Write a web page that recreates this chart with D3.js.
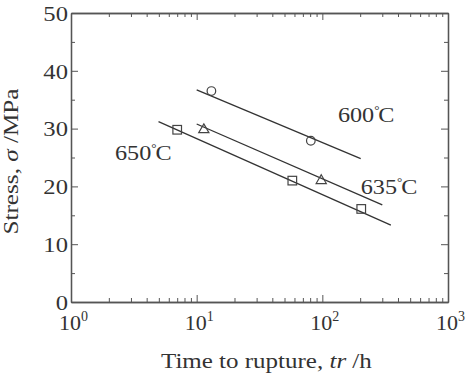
<!DOCTYPE html>
<html>
<head>
<meta charset="utf-8">
<script src="https://cdn.jsdelivr.net/npm/d3@7"></script>
<style>
	body { margin: 0; background: #fff; }
	svg { display: block; }
	text { font-family: "Liberation Serif", "Times New Roman", serif; fill: #333; }
	.axis path, .axis line { stroke: #555; }
</style>
</head>
<body>
<script>
	'use strict';

	// data (time to rupture in h, stress in MPa)
	var times600  = [13.1, 81];
	var stress600 = [36.5, 27.9];
	var times635  = [11.4, 98];
	var stress635 = [29.8, 21.0];
	var times650  = [7.0, 57.7, 204];
	var stress650 = [29.8, 21.0, 16.1];

	// fitted lines, [time, stress] end points
	var fit600 = [[10, 36.7], [202, 24.8]];
	var fit635 = [[10, 30.8], [300, 16.8]];
	var fit650 = [[4.97, 31.2], [351, 13.3]];

	var tempLabels = ["600", "635", "650"];
	var labelTimes = [133, 202, 2.24];
	var labelStress = [31.1, 18.6, 24.6];

	var xDecades = [0, 1, 2, 3];
	var yTicks = [0, 10, 20, 30, 40, 50];

	var margin = { top: 13, right: 18, bottom: 74, left: 71 },
		W = 466, H = 376,
		width = W - margin.left - margin.right,
		height = H - margin.top - margin.bottom;

	var svg = d3.select("body").append("svg")
		.attr("width", W)
		.attr("height", H)
		.append("g")
		.attr("transform", "translate(" + margin.left + "," + margin.top + ")");

	var x = d3.scaleLog().domain([1, 1000]).range([0, width]);
	var y = d3.scaleLinear().domain([0, 50]).range([height, 0]);

	// minor ticks, 2..9 within each decade
	var xMinor = [];
	xDecades.slice(0, -1).forEach(function(p) {
		for (var k = 2; k <= 9; k++) xMinor.push(k * Math.pow(10, p));
	});
	var xMajor = xDecades.map(function(p) { return Math.pow(10, p); });
	var yMinor = [5, 15, 25, 35, 45];

	function addAxis(axisFn, scale, values, size, transform) {
		svg.append("g")
			.attr("class", "axis")
			.attr("transform", transform)
			.call(axisFn(scale).tickValues(values).tickSize(size).tickSizeOuter(0).tickFormat(""));
	}

	// frame: bottom, top, left, right with inward ticks
	addAxis(d3.axisBottom, x, xMinor, -4, "translate(0," + height + ")");
	addAxis(d3.axisBottom, x, xMajor, -7, "translate(0," + height + ")");
	addAxis(d3.axisTop, x, xMinor, -4, "translate(0,0)");
	addAxis(d3.axisTop, x, xMajor, -7, "translate(0,0)");
	addAxis(d3.axisLeft, y, yMinor, -4, "translate(0,0)");
	addAxis(d3.axisLeft, y, yTicks, -7, "translate(0,0)");
	addAxis(d3.axisRight, y, yMinor, -4, "translate(" + width + ",0)");
	addAxis(d3.axisRight, y, yTicks, -7, "translate(" + width + ",0)");
	svg.selectAll(".axis path").attr("stroke-width", 1.3);

	// x tick labels 10^n
	var xl = svg.selectAll(".xlab")
		.data(xDecades)
		.enter().append("text")
		.attr("class", "xlab")
		.attr("transform", function(d) { return "translate(" + (x(Math.pow(10, d)) - 12) + "," + (height + 28) + ")"; })
		.style("font-size", "22px");
	xl.append("tspan").text("10");
	xl.append("tspan").attr("dy", -9).style("font-size", "14px").text(function(d) { return d; });

	// y tick labels
	svg.selectAll(".ylab")
		.data(yTicks)
		.enter().append("text")
		.attr("class", "ylab")
		.attr("transform", function(d) { return "translate(-3," + y(d) + ")scale(1.12,1)"; })
		.attr("dy", "0.35em")
		.attr("text-anchor", "end")
		.style("font-size", "22px")
		.text(function(d) { return d; });

	// axis titles
	var xt = svg.append("text")
		.attr("transform", "translate(90," + (height + 66) + ")scale(1.19,1)")
		.style("font-size", "21px");
	xt.append("tspan").text("Time to rupture, ");
	xt.append("tspan").style("font-style", "italic").text("tr");
	xt.append("tspan").text(" /h");

	var yt = svg.append("text")
		.attr("text-anchor", "middle")
		.attr("transform", "translate(-53," + (height / 2 + 4) + ")rotate(-90)scale(1.26,1)")
		.style("font-size", "20px");
	yt.append("tspan").text("Stress,  ");
	yt.append("tspan").style("font-style", "italic").text("\u03c3");
	yt.append("tspan").text(" /MPa");

	// fit lines
	var line = d3.line().x(function(d) { return x(d[0]); }).y(function(d) { return y(d[1]); });
	[fit600, fit635, fit650].forEach(function(f) {
		svg.append("path")
			.attr("d", line(f))
			.attr("fill", "none")
			.attr("stroke", "#333")
			.attr("stroke-width", 1.3);
	});

	// markers
	var mk = { fill: "none", stroke: "#444", sw: 1.2 };
	svg.selectAll(".circ")
		.data(d3.zip(times600, stress600))
		.enter().append("circle")
		.attr("cx", function(d) { return x(d[0]); })
		.attr("cy", function(d) { return y(d[1]); })
		.attr("r", 4.3)
		.attr("fill", mk.fill).attr("stroke", mk.stroke).attr("stroke-width", mk.sw);

	svg.selectAll(".tri")
		.data(d3.zip(times635, stress635))
		.enter().append("path")
		.attr("d", d3.symbol().type(d3.symbolTriangle).size(45))
		.attr("transform", function(d) { return "translate(" + x(d[0]) + "," + y(d[1]) + ")"; })
		.attr("fill", mk.fill).attr("stroke", mk.stroke).attr("stroke-width", mk.sw);

	svg.selectAll(".sq")
		.data(d3.zip(times650, stress650))
		.enter().append("rect")
		.attr("x", function(d) { return x(d[0]) - 4.3; })
		.attr("y", function(d) { return y(d[1]) - 4.3; })
		.attr("width", 8.6).attr("height", 8.6)
		.attr("fill", mk.fill).attr("stroke", mk.stroke).attr("stroke-width", mk.sw);

	// temperature labels, degree sign drawn small and raised like the original ℃
	var tl = svg.selectAll(".tlab")
		.data(tempLabels)
		.enter().append("text")
		.attr("class", "tlab")
		.attr("transform", function(d, i) { return "translate(" + x(labelTimes[i]) + "," + y(labelStress[i]) + ")scale(1.1,1)"; })
		.style("font-size", "22px");
	tl.append("tspan").text(function(d) { return d; });
	tl.append("tspan").attr("dy", -8).style("font-size", "12px").text("\u00b0");
	tl.append("tspan").attr("dy", 8).attr("dx", -1).text("C");
</script>
</body>
</html>
